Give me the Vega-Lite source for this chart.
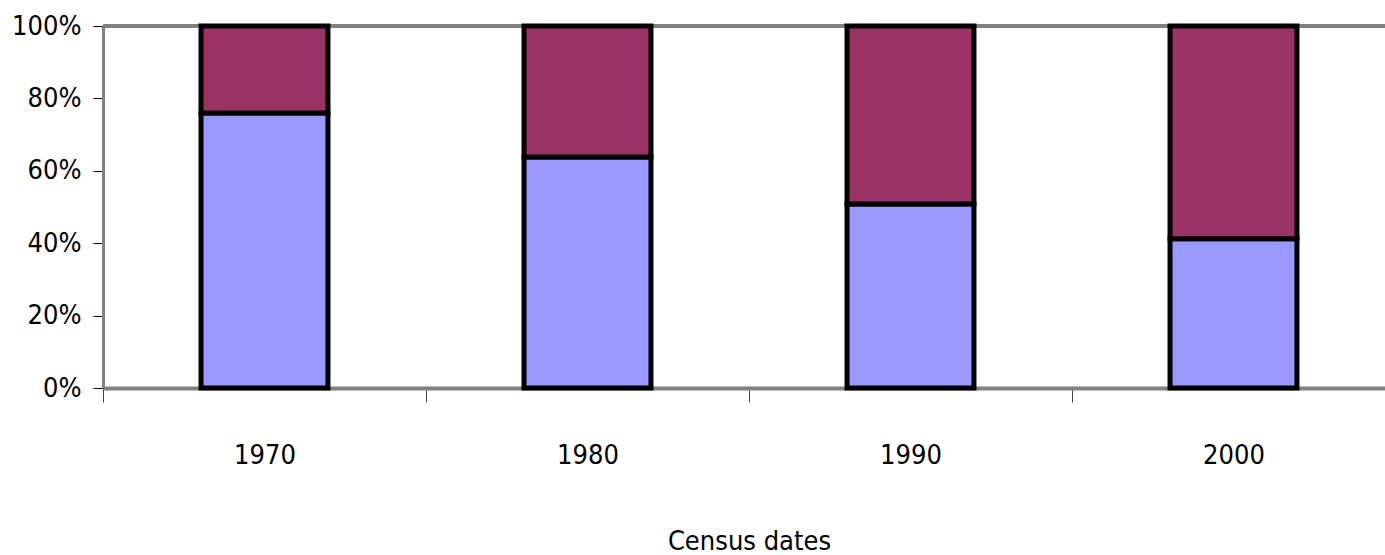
{
  "$schema": "https://vega.github.io/schema/vega-lite/v6.json",
  "autosize": "none",
  "width": 1292,
  "height": 362,
  "padding": {"left": 103, "top": 26, "right": 0, "bottom": 167},
  "background": "white",
  "config": {
    "view": {"stroke": null},
    "font": "'Liberation Sans Narrow', 'DejaVu Sans Condensed', 'Liberation Sans', sans-serif"
  },
  "data": {
    "values": [
      {"year": "1970", "series": "Series 1", "k": 1, "share": 0.760},
      {"year": "1970", "series": "Series 2", "k": 2, "share": 0.240},
      {"year": "1980", "series": "Series 1", "k": 1, "share": 0.638},
      {"year": "1980", "series": "Series 2", "k": 2, "share": 0.362},
      {"year": "1990", "series": "Series 1", "k": 1, "share": 0.508},
      {"year": "1990", "series": "Series 2", "k": 2, "share": 0.492},
      {"year": "2000", "series": "Series 1", "k": 1, "share": 0.412},
      {"year": "2000", "series": "Series 2", "k": 2, "share": 0.588}
    ]
  },
  "layer": [
    {
      "mark": {"type": "rule", "color": "#808080", "strokeWidth": 4},
      "encoding": {"y": {"datum": 1, "type": "quantitative"}}
    },
    {
      "mark": {"type": "bar", "stroke": "black", "strokeWidth": 5, "strokeJoin": "miter"},
      "encoding": {
        "x": {
          "field": "year",
          "type": "nominal",
          "scale": {"paddingInner": 0.607, "paddingOuter": 0.3035},
          "axis": {
            "title": "Census dates",
            "labelAngle": 0,
            "labelFontSize": 27,
            "labelColor": "black",
            "labelPadding": 40,
            "labelOffset": 161.5,
            "tickOffset": -161.5,
            "tickSize": 14,
            "tickColor": "#404040",
            "tickWidth": 1,
            "domainColor": "#808080",
            "domainWidth": 4,
            "titleFontSize": 27,
            "titleFontWeight": "normal",
            "titleColor": "black",
            "titlePadding": 60
          }
        },
        "y": {
          "field": "share",
          "type": "quantitative",
          "stack": "zero",
          "scale": {"domain": [0, 1], "nice": false},
          "axis": {
            "title": null,
            "format": ".0%",
            "values": [0, 0.2, 0.4, 0.6, 0.8, 1],
            "labelFontSize": 27,
            "labelColor": "black",
            "labelPadding": 12,
            "tickSize": 10,
            "tickColor": "black",
            "gridColor": "black",
            "gridWidth": 1,
            "gridOpacity": 1,
            "domainColor": "#808080",
            "domainWidth": 3
          }
        },
        "color": {
          "field": "series",
          "type": "nominal",
          "scale": {"domain": ["Series 1", "Series 2"], "range": ["#9999FF", "#993366"]},
          "legend": null
        },
        "order": {"field": "k", "type": "quantitative"}
      }
    }
  ]
}
